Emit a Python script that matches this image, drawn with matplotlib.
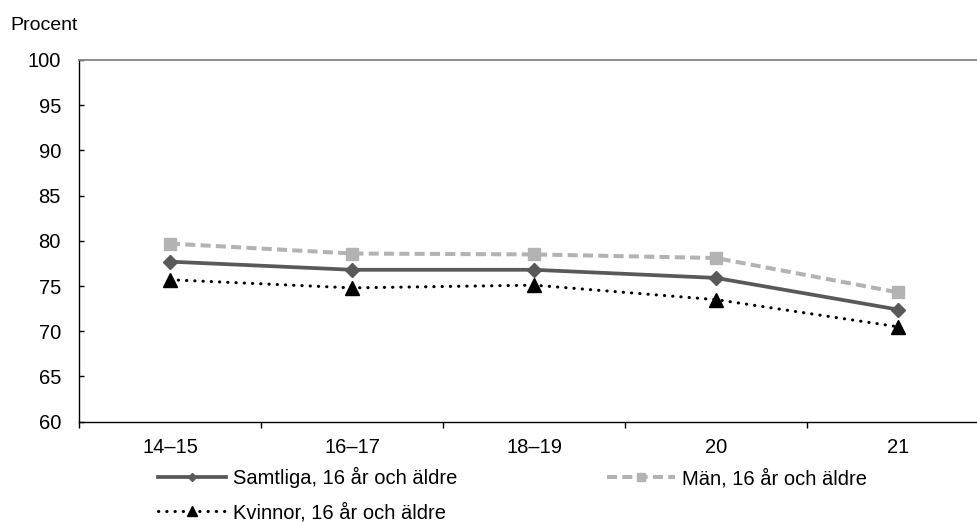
import matplotlib
matplotlib.use("Agg")
import matplotlib.pyplot as plt
from matplotlib.ticker import FixedLocator
from matplotlib.lines import Line2D

plt.rcParams['font.family'] = ['Liberation Sans', 'DejaVu Sans']

categories = ["14–15", "16–17", "18–19", "20", "21"]
samtliga = [77.7, 76.8, 76.8, 75.9, 72.4]
man = [79.7, 78.6, 78.5, 78.1, 74.3]
kvinnor = [75.7, 74.8, 75.1, 73.5, 70.5]
yticks = [60, 65, 70, 75, 80, 85, 90, 95, 100]
labels = ["Samtliga, 16 år och äldre", "Män, 16 år och äldre", "Kvinnor, 16 år och äldre"]

W, H = 977, 522
fig = plt.figure(figsize=(W / 100, H / 100), dpi=100)
ax = fig.add_axes([79 / W, (H - 421.7) / H, 910 / W, 361.7 / H])

s1 = dict(color="#595959", lw=2.7, marker="D")
s2 = dict(color="#b3b3b3", lw=2.9, ls=(0, (2.5, 1.3)), marker="s")
s3 = dict(color="black", lw=2.2, ls=(0, (0.1, 2.6)), dash_capstyle="round", marker="^")

x = list(range(len(categories)))
ax.plot(x, samtliga, ms=7.2, zorder=3, **s1)
ax.plot(x, man, ms=8.2, zorder=2, **s2)
ax.plot(x, kvinnor, ms=10.5, zorder=4, **s3)

h1 = Line2D([], [], ms=4.5, **s1)
h2 = Line2D([], [], ms=5.5, **s2)
h3 = Line2D([], [], ms=6.5, **s3)

ax.set_xlim(-0.5, 4.5)
ax.set_ylim(60, 100)
ax.set_yticks(yticks)
ax.set_xticks(x)
ax.set_xticklabels(categories)
ax.xaxis.set_minor_locator(FixedLocator([i - 0.5 for i in range(len(categories) + 1)]))
ax.tick_params(axis='x', which='major', length=0, labelsize=14.5, pad=11.7)
ax.tick_params(axis='x', which='minor', length=4.3, width=1, direction='out')
ax.tick_params(axis='y', length=3.8, width=1, labelsize=14.5, pad=13, direction='in')

ax.spines['right'].set_visible(False)
ax.spines['top'].set_color("#868686")
ax.spines['top'].set_linewidth(1.3)
ax.spines['left'].set_linewidth(1)
ax.spines['bottom'].set_linewidth(1)

fig.text(10 / W, 1 - 30 / H, "Procent", fontsize=14, ha="left", va="baseline")

leg = fig.legend([h1, h3, h2], [labels[0], labels[2], labels[1]],
                 ncol=2, loc="upper left", bbox_to_anchor=(158 / W, (H - 467.4) / H),
                 bbox_transform=fig.transFigure,
                 frameon=False, fontsize=14.5, handlelength=3.4,
                 columnspacing=7.4, handletextpad=0.33, labelspacing=0.72,
                 borderpad=0, borderaxespad=0)

fig.savefig("out.png", dpi=100)
